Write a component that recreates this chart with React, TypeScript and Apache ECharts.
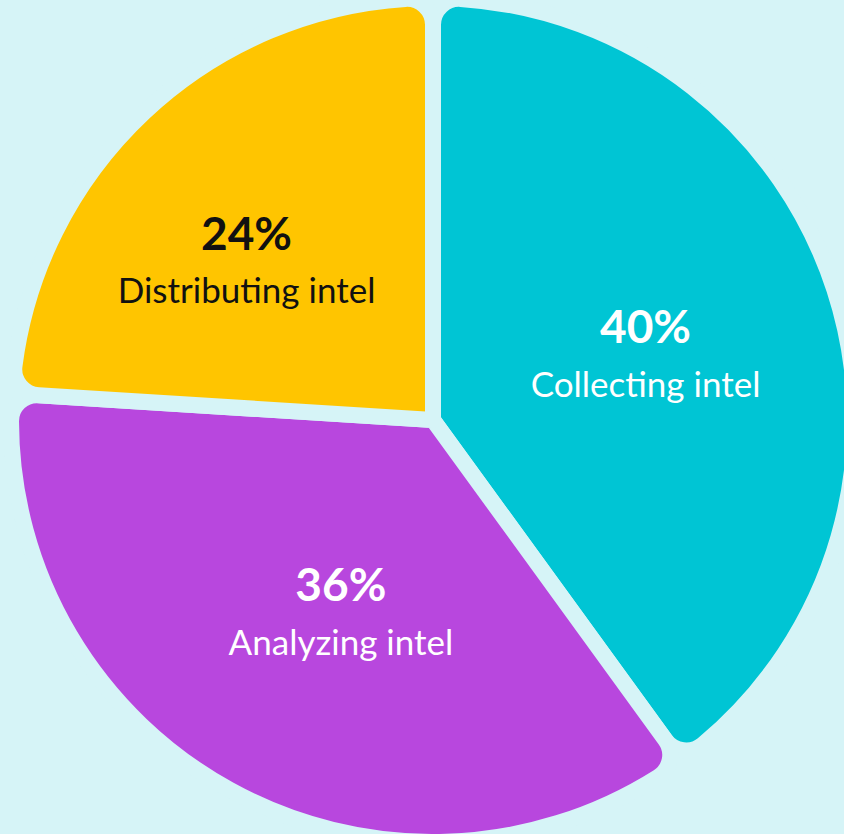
import React, { useEffect, useRef } from "react";
import * as echarts from "echarts";

const categories = ["Collecting intel", "Analyzing intel", "Distributing intel"];
const values = [40, 36, 24];
const sliceColors = ["#00c5d4", "#b847de", "#ffc500"];
const labelColors = ["#ffffff", "#ffffff", "#111111"];
// label nudges (style only)
const labelNudge = [
  [9, 1],
  [11, 5],
  [-40, -3],
];

const BG = "#d6f4f7";

export default function App() {
  const ref = useRef<HTMLDivElement>(null);
  useEffect(() => {
    if (!ref.current) return;
    const chart = echarts.init(ref.current, null, { renderer: "svg" });
    chart.setOption({
      animation: false,
      backgroundColor: BG,
      series: [
        {
          type: "pie",
          center: [433, 420],
          radius: [0, 422],
          startAngle: 90,
          clockwise: true,
          avoidLabelOverlap: false,
          itemStyle: {
            borderColor: BG,
            borderWidth: 16,
            borderRadius: 26,
          },
          label: {
            show: true,
            position: "inside",
            formatter: (p: any) => `{p|${p.value}%}\n{n|${p.name}}`,
            rich: {
              p: {
                fontFamily: "Lato",
                fontWeight: "bold",
                fontSize: 46,
                lineHeight: 56,
                align: "center",
              },
              n: {
                fontFamily: "Lato",
                fontSize: 35,
                lineHeight: 58,
                align: "center",
              },
            },
          },
          labelLine: { show: false },
          labelLayout: (params: any) => {
            const o = labelNudge[params.dataIndex] || [0, 0];
            return { dx: o[0], dy: o[1] };
          },
          emphasis: { disabled: true },
          data: categories.map((name, i) => ({
            name,
            value: values[i],
            itemStyle: { color: sliceColors[i] },
            label: { color: labelColors[i] },
          })),
        },
      ],
    });
    return () => chart.dispose();
  }, []);
  return (
    <div
      ref={ref}
      style={{ position: "fixed", left: 0, top: 0, width: 844, height: 834, background: BG }}
    />
  );
}
